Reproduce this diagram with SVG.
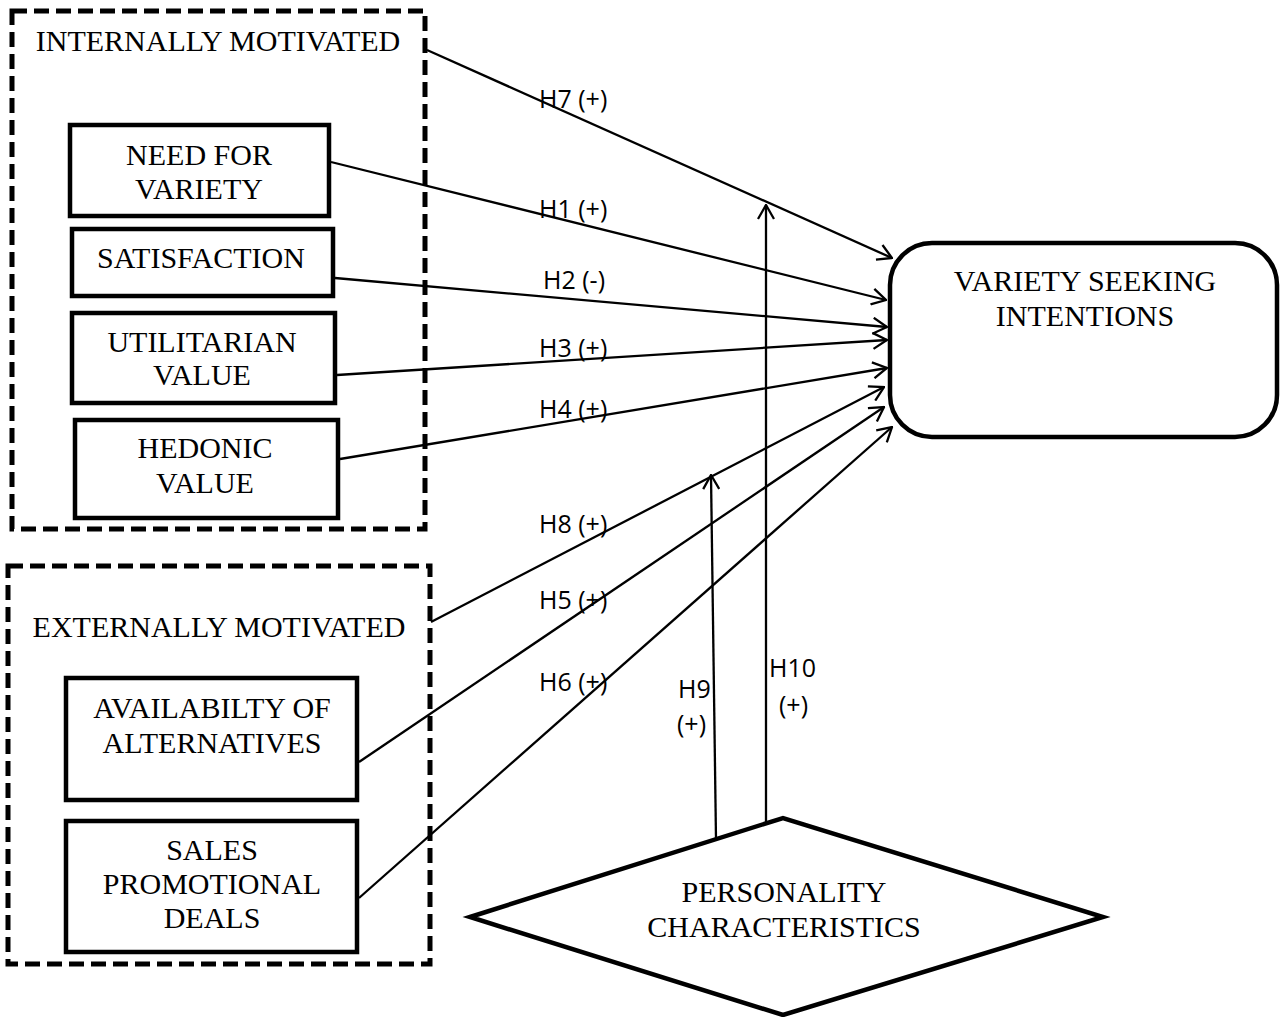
<svg xmlns="http://www.w3.org/2000/svg" width="1285" height="1017" viewBox="0 0 1285 1017">
<style>
.bg{fill:#fff}
.box{fill:#fff;stroke:#000;stroke-width:4.5}
.dash{fill:none;stroke:#000;stroke-width:5;stroke-dasharray:15 7}
.t{font-family:"Liberation Serif","Times New Roman",serif;font-size:30px;fill:#000;text-anchor:middle}
.lbl{font-family:"Open Sans","Liberation Sans",sans-serif;font-size:25px;fill:#000}
.c{fill:none;stroke:#000;stroke-width:2.3}
</style>
<defs>
<marker id="ah" viewBox="0 0 16 18" refX="15" refY="9" markerWidth="16" markerHeight="18" markerUnits="userSpaceOnUse" orient="auto">
<path d="M1,1 L15,9 L1,17" fill="none" stroke="#000" stroke-width="2.3"/>
</marker>
</defs>
<rect class="bg" x="0" y="0" width="1285" height="1017"/>

<g id="internally-motivated">
<rect class="dash" x="12" y="11" width="413" height="518"/>
<text class="t" x="218" y="51">INTERNALLY MOTIVATED</text>
</g>
<g id="need-for-variety">
<rect class="box" x="70" y="125" width="259" height="91"/>
<text class="t" x="199" y="165">NEED FOR</text>
<text class="t" x="199" y="199">VARIETY</text>
</g>
<g id="satisfaction">
<rect class="box" x="72" y="229" width="261" height="67"/>
<text class="t" x="201" y="268">SATISFACTION</text>
</g>
<g id="utilitarian-value">
<rect class="box" x="72" y="313" width="263" height="90"/>
<text class="t" x="202" y="352">UTILITARIAN</text>
<text class="t" x="202" y="385">VALUE</text>
</g>
<g id="hedonic-value">
<rect class="box" x="75" y="420" width="263" height="98"/>
<text class="t" x="205" y="458">HEDONIC</text>
<text class="t" x="205" y="493">VALUE</text>
</g>

<g id="externally-motivated">
<rect class="dash" x="8" y="566" width="422" height="398"/>
<text class="t" x="219" y="637">EXTERNALLY MOTIVATED</text>
</g>
<g id="availability-of-alternatives">
<rect class="box" x="66" y="678" width="291" height="122"/>
<text class="t" x="212" y="718">AVAILABILTY OF</text>
<text class="t" x="212" y="753">ALTERNATIVES</text>
</g>
<g id="sales-promotional-deals">
<rect class="box" x="66" y="821" width="291" height="131"/>
<text class="t" x="212" y="860">SALES</text>
<text class="t" x="212" y="894">PROMOTIONAL</text>
<text class="t" x="212" y="928">DEALS</text>
</g>

<g id="variety-seeking-intentions">
<rect class="box" x="890" y="243" width="387" height="194" rx="42" ry="42"/>
<text class="t" x="1085" y="291">VARIETY SEEKING</text>
<text class="t" x="1085" y="326">INTENTIONS</text>
</g>

<g id="personality-characteristics">
<polygon class="box" points="470,917 783,818 1103,917 783,1015"/>
<text class="t" x="784" y="902">PERSONALITY</text>
<text class="t" x="784" y="937">CHARACTERISTICS</text>
</g>

<g id="connectors">
<line class="c" x1="427" y1="50" x2="892" y2="258" marker-end="url(#ah)"/>
<line class="c" x1="331" y1="162" x2="886" y2="300" marker-end="url(#ah)"/>
<line class="c" x1="335" y1="278" x2="887" y2="327" marker-end="url(#ah)"/>
<line class="c" x1="337" y1="375" x2="887" y2="340" marker-end="url(#ah)"/>
<line class="c" x1="340" y1="459" x2="887" y2="368" marker-end="url(#ah)"/>
<line class="c" x1="431" y1="622" x2="884" y2="387" marker-end="url(#ah)"/>
<line class="c" x1="359" y1="762" x2="884" y2="407" marker-end="url(#ah)"/>
<line class="c" x1="359" y1="898" x2="892" y2="427" marker-end="url(#ah)"/>
<line class="c" x1="716" y1="839" x2="711" y2="475" marker-end="url(#ah)"/>
<line class="c" x1="766" y1="823" x2="766" y2="205" marker-end="url(#ah)"/>
<text class="lbl" x="539" y="108">H7 (+)</text>
<text class="lbl" x="539" y="218">H1 (+)</text>
<text class="lbl" x="543" y="289">H2 (-)</text>
<text class="lbl" x="539" y="357">H3 (+)</text>
<text class="lbl" x="539" y="418">H4 (+)</text>
<text class="lbl" x="539" y="533">H8 (+)</text>
<text class="lbl" x="539" y="609">H5 (+)</text>
<text class="lbl" x="539" y="691">H6 (+)</text>
<text class="lbl" x="678" y="698">H9</text>
<text class="lbl" x="677" y="733">(+)</text>
<text class="lbl" x="769" y="677">H10</text>
<text class="lbl" x="779" y="714">(+)</text>
</g>
</svg>
